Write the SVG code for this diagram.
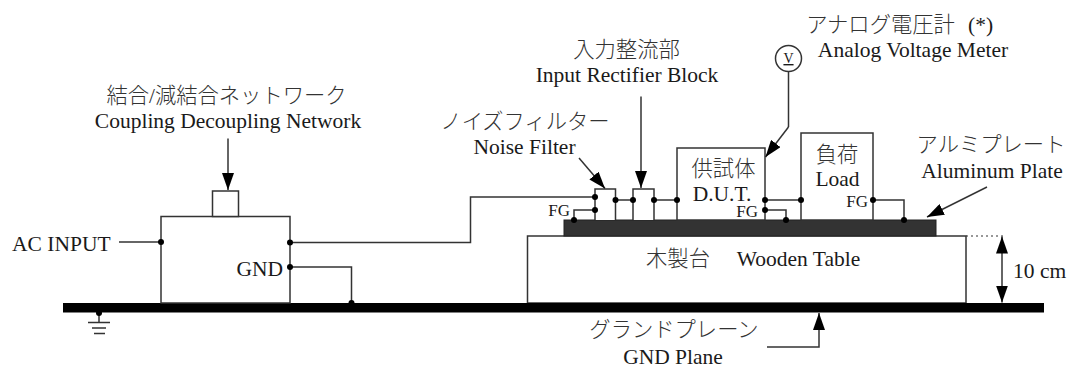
<svg xmlns="http://www.w3.org/2000/svg" width="1067" height="367" viewBox="0 0 1067 367">
<style>
text{font-family:"Liberation Serif","Noto Sans CJK JP",serif;font-size:21.5px;fill:#1a1a1a}
.j{fill:#333;font-size:21.3px;font-weight:300}
.m{text-anchor:middle}
.e{text-anchor:end}
.s{font-size:17px}
.v{font-size:14px;text-decoration:underline}
.w{fill:none;stroke:#333;stroke-width:1.5}
.b{fill:#fff;stroke:#333;stroke-width:1.5}
.d{fill:#000}
</style>
<defs>
<marker id="a" markerUnits="userSpaceOnUse" markerWidth="17" markerHeight="12" refX="17" refY="6" orient="auto-start-reverse" viewBox="0 0 17 12"><path d="M0 0L17 6L0 12Z" fill="#000"/></marker>
</defs>
<g id="table"><rect class="b" x="527.500" y="236" width="438.500" height="67"/><text x="678" y="266" class="m j">木製台</text><text x="798.500" y="266" class="m">Wooden Table</text></g>
<g id="plate"><rect x="564" y="220" width="372" height="16" fill="#333" stroke="#222"/></g>
<g id="gnd-plane"><rect x="63" y="303" width="981" height="9.500" fill="#000"/></g>
<g id="cdn"><rect class="b" x="161" y="216.500" width="129" height="86.500"/><rect class="b" x="212.500" y="191" width="26" height="25.500"/><text x="226.500" y="103" class="m j">結合/減結合ネットワーク</text><text x="228" y="128" class="m">Coupling Decoupling Network</text><text x="283" y="276" class="e">GND</text></g>
<g id="noise-filter"><path class="b" d="M595 220V189H615.500V220"/><text x="525" y="129" class="m j">ノイズフィルター</text><text x="524.500" y="154" class="m">Noise Filter</text></g>
<g id="rectifier"><path class="b" d="M633 220V189H654V220"/><text x="626.500" y="57" class="m j">入力整流部</text><text x="627" y="82" class="m">Input Rectifier Block</text></g>
<g id="dut"><rect class="b" x="677" y="148" width="88" height="72"/><text x="723.500" y="176" class="m j">供試体</text><text x="722" y="201" class="m">D.U.T.</text></g>
<g id="load"><rect class="b" x="801" y="133" width="72" height="87"/><text x="837" y="162" class="m j">負荷</text><text x="837.500" y="186" class="m">Load</text></g>
<g id="voltmeter"><circle class="b" cx="788.500" cy="58.500" r="13"/><text x="788.500" y="63" class="m v">V</text></g>
<g id="labels">
<text x="12" y="251">AC INPUT</text>
<text x="880.500" y="32" class="m j">アナログ電圧計</text>
<text x="968" y="32">(*)</text>
<text x="913" y="57" class="m">Analog Voltage Meter</text>
<text x="991" y="152" class="m j">アルミプレート</text>
<text x="992" y="178" class="m">Aluminum Plate</text>
<text x="674" y="337" class="m j">グランドプレーン</text>
<text x="673" y="364" class="m">GND Plane</text>
<text x="1013" y="278">10 cm</text>
<text x="570" y="216" class="e s">FG</text>
<text x="758" y="217" class="e s">FG</text>
<text x="868" y="207" class="e s">FG</text>
</g>
<g id="connectors">
<path class="w" d="M119 242H161"/>
<path class="w" d="M290 242.500H470.500V197H595"/>
<path class="w" d="M290 267H351.500V303"/>
<path class="w" d="M99 312V322M88 322.500H110M92 328H106M94 333.500H105"/>
<path class="w" d="M574 220V210H595"/>
<path class="w" d="M615.500 200H633M654 200H677"/>
<path class="w" d="M765 200H801M765 210H786V220"/>
<path class="w" d="M873 200H904V220"/>
<path class="w" marker-end="url(#a)" d="M228 138.500V190"/>
<path class="w" marker-end="url(#a)" d="M579 158L605 188.500"/>
<path class="w" marker-end="url(#a)" d="M641 96.500V188"/>
<path class="w" d="M788.500 71.500V127"/>
<path class="w" marker-end="url(#a)" d="M788.500 127L765.500 157"/>
<path class="w" marker-end="url(#a)" d="M987 187L927 217"/>
<path class="w" marker-end="url(#a)" marker-start="url(#a)" d="M1002 236.500V302.500"/>
<path d="M966 236H1005" fill="none" stroke="#333" stroke-width="1.200" stroke-dasharray="2 3"/>
<path class="w" marker-end="url(#a)" d="M767 347H819V313"/>
</g>
<g id="dots" class="d">
<circle cx="161" cy="242" r="3"/><circle cx="290" cy="242.500" r="3"/><circle cx="290" cy="267" r="3"/><circle cx="351.500" cy="303" r="3"/><circle cx="99" cy="313" r="3"/>
<circle cx="595" cy="197" r="3"/><circle cx="595" cy="210" r="3"/><circle cx="574" cy="220" r="3"/><circle cx="615.500" cy="200" r="3"/><circle cx="633" cy="200" r="3"/><circle cx="654" cy="200" r="3"/><circle cx="677" cy="200" r="3"/>
<circle cx="765" cy="200" r="3"/><circle cx="801" cy="200" r="3"/><circle cx="765" cy="210" r="3"/><circle cx="786" cy="220" r="3"/><circle cx="873" cy="200" r="3"/><circle cx="904" cy="220" r="3"/>
</g>
</svg>
